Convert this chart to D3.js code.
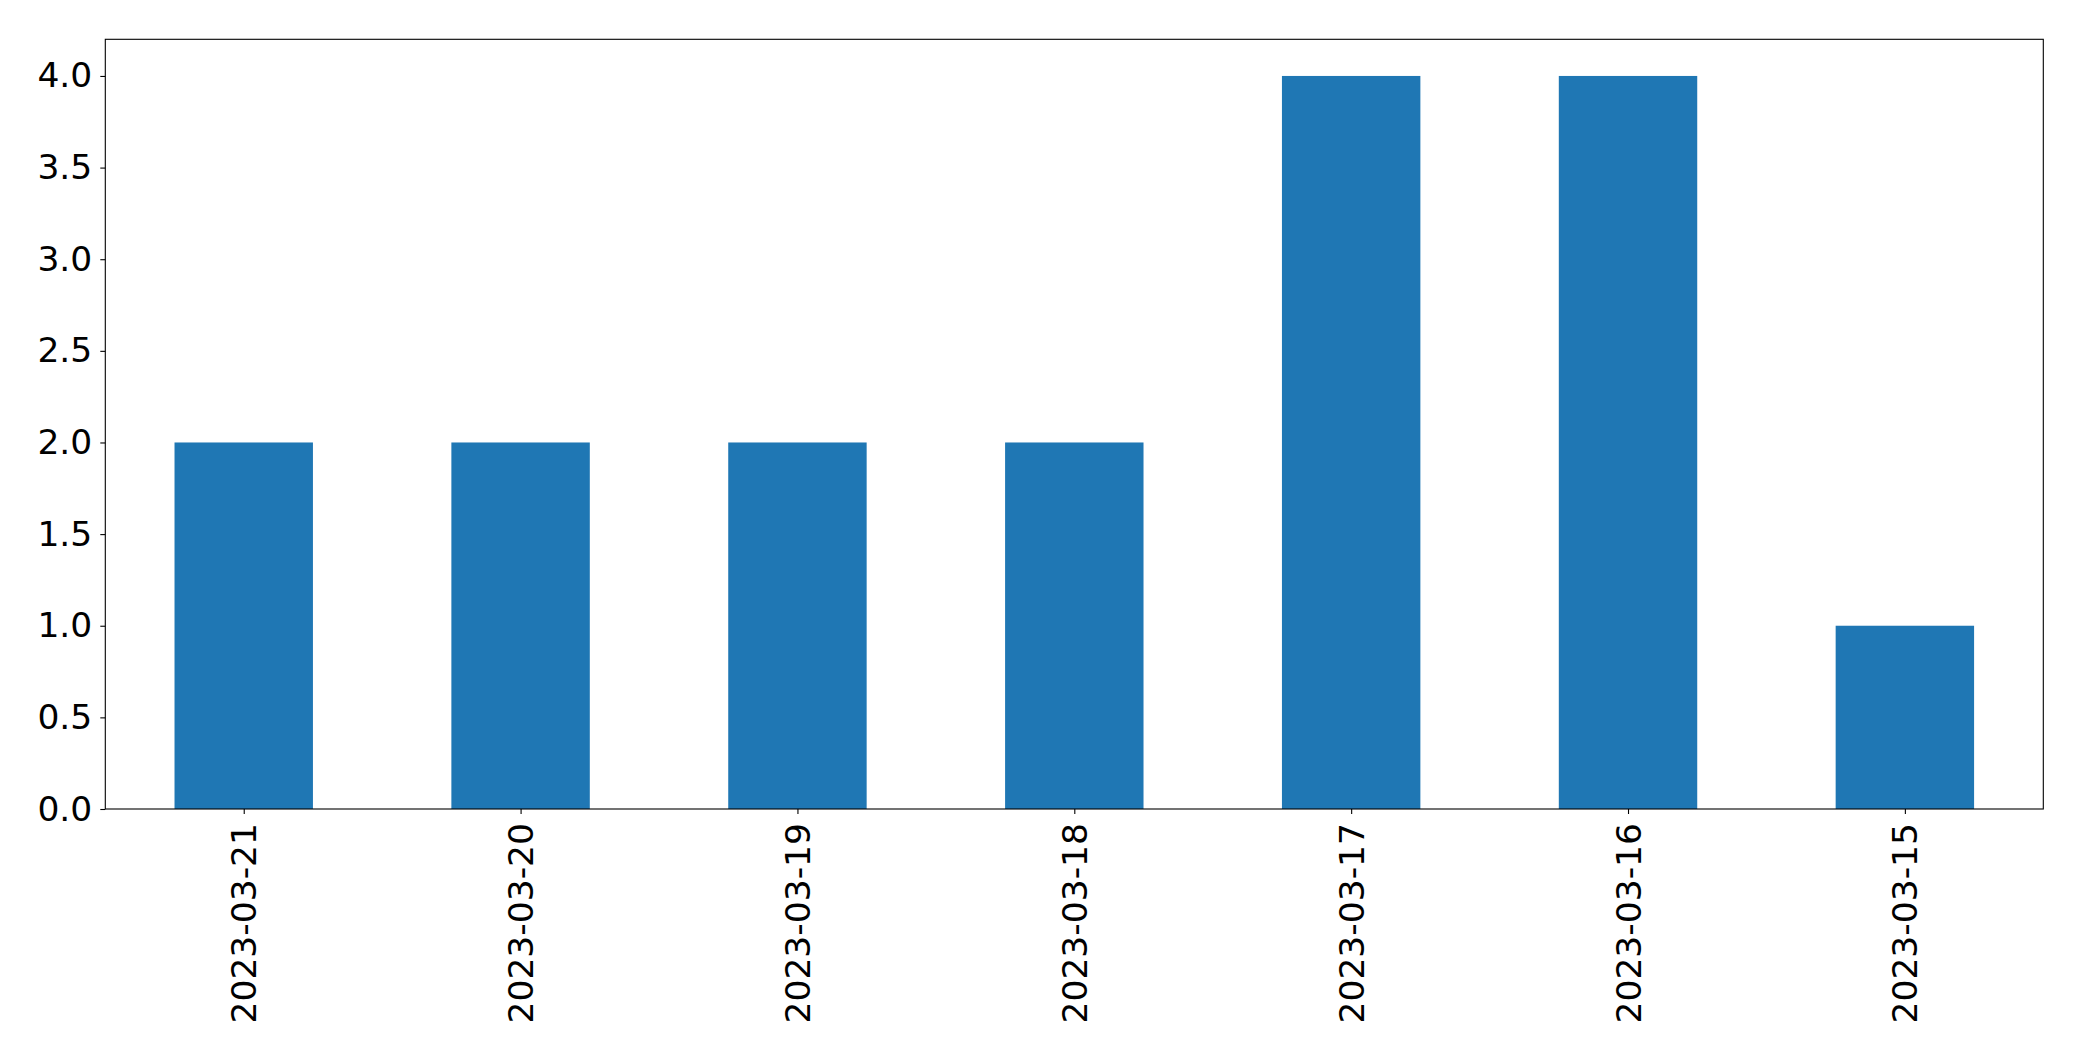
<!DOCTYPE html>
<html>
<head>
<meta charset="utf-8">
<script src="https://cdn.jsdelivr.net/npm/d3@7"></script>
<style>
  body { margin: 0; background: #fff; }
  text { font-family: "DejaVu Sans", sans-serif; fill: #000; }
</style>
</head>
<body>
<script>
var width = 2082, height = 1061;

// data
var dates = ["2023-03-21", "2023-03-20", "2023-03-19", "2023-03-18", "2023-03-17", "2023-03-16", "2023-03-15"];
var counts = [2, 2, 2, 2, 4, 4, 1];
var yTicks = [0, 0.5, 1, 1.5, 2, 2.5, 3, 3.5, 4];

var margin = {left: 105.3, right: 2082 - 2043.3, top: 39.3, bottom: 1061 - 809};
var plotW = width - margin.left - margin.right,
  plotH = height - margin.top - margin.bottom;

var x = d3.scaleLinear() //matplotlib style positions, bar i at i
  .domain([-0.5, dates.length - 0.5])
  .range([0, plotW]);

var y = d3.scaleLinear()
  .domain([0, 4.2])
  .range([plotH, 0]);

var svg = d3.select("body").append("svg").attr("width", width).attr("height", height);
var g = svg.append("g").attr("transform", "translate(" + margin.left + "," + margin.top + ")");

//Bars
g.selectAll("rect.bar")
  .data(counts)
  .enter().append("rect")
  .attr("class", "bar")
  .attr("x", function(d, i) { return x(i - 0.25); })
  .attr("width", function(d, i) { return x(i + 0.25) - x(i - 0.25); })
  .attr("y", function(d) { return y(d); })
  .attr("height", function(d) { return y(0) - y(d); })
  .attr("fill", "#1f77b4");

//Y axis
var yAxis = d3.axisLeft(y)
  .tickValues(yTicks)
  .tickFormat(d3.format(".1f"))
  .tickSize(5)
  .tickPadding(8);
var ya = g.append("g").call(yAxis);
ya.select(".domain").remove();
ya.selectAll("line").attr("stroke", "#000").attr("stroke-width", 1.1);
ya.selectAll("text").attr("font-size", "34.5px").attr("font-family", "DejaVu Sans, sans-serif").attr("fill", "#000");

//X axis
var xAxis = d3.axisBottom(x)
  .tickValues(d3.range(dates.length))
  .tickFormat(function(i) { return dates[i]; })
  .tickSize(5)
  .tickPadding(12);
var xa = g.append("g").attr("transform", "translate(0," + plotH + ")").call(xAxis);
xa.select(".domain").remove();
xa.selectAll("line").attr("stroke", "#000").attr("stroke-width", 1.1);
xa.selectAll("text")
  .attr("font-size", "34.5px")
  .attr("font-family", "DejaVu Sans, sans-serif")
  .attr("fill", "#000")
  .attr("text-anchor", "end")
  .attr("dy", null)
  .attr("dominant-baseline", "central")
  .attr("transform", "translate(0,14) rotate(-90)")
  .attr("x", 0)
  .attr("y", 0);

//Frame
g.append("rect")
  .attr("width", plotW).attr("height", plotH)
  .attr("fill", "none")
  .attr("stroke", "#000")
  .attr("stroke-width", 1.1);
</script>
</body>
</html>
